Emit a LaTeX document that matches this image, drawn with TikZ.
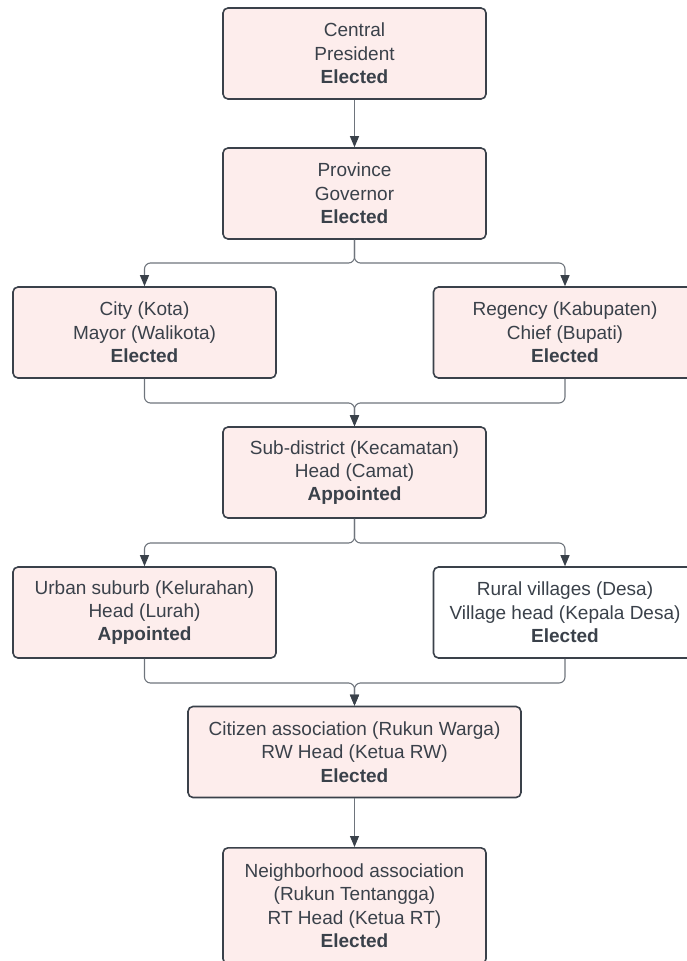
\documentclass[tikz,border=0pt]{standalone}
\usepackage{fontspec}
\setmainfont{Liberation Sans}
\usetikzlibrary{arrows.meta,positioning}
\definecolor{boxpink}{RGB}{253,237,236}
\definecolor{boxline}{RGB}{58,65,74}
\definecolor{linegray}{RGB}{110,116,124}
\tikzset{
  unit/.style={draw=boxline, line width=1.6pt, fill=boxpink, rounded corners=5pt,
    minimum width=263pt, minimum height=91pt, align=center, text=boxline,
    font=\fontsize{19}{23.3}\selectfont},
  link/.style={draw=linegray, line width=1.1pt, rounded corners=6pt,
    -{Triangle[length=11pt,width=9pt,color=boxline]}},
}
\begin{document}
\begin{tikzpicture}[x=1pt, y=-1pt]
  \useasboundingbox (0,0) rectangle (687,961);
  \clip (0,0) rectangle (687,961);
  \node[unit] (cent) at (354.5,53.5) {Central\\President\\\textbf{Elected}};
  \node[unit] (prov) at (354.5,193.5) {Province\\Governor\\\textbf{Elected}};
  \node[unit] (city) at (144.5,332.5) {City (Kota)\\Mayor (Walikota)\\\textbf{Elected}};
  \node[unit] (reg) at (565,332.5) {Regency (Kabupaten)\\Chief (Bupati)\\\textbf{Elected}};
  \node[unit] (sub) at (354.5,472.5) {Sub-district (Kecamatan)\\Head (Camat)\\\textbf{Appointed}};
  \node[unit] (urban) at (144.5,612.5) {Urban suburb (Kelurahan)\\Head (Lurah)\\\textbf{Appointed}};
  \node[unit, fill=white] (rural) at (565,612.5) {Rural villages (Desa)\\Village head (Kepala Desa)\\\textbf{Elected}};
  \node[unit, minimum width=333pt] (rw) at (354.5,752) {Citizen association (Rukun Warga)\\RW Head (Ketua RW)\\\textbf{Elected}};
  \node[unit, minimum height=116pt, anchor=north] (rt) at (354.5,847) {Neighborhood association\\(Rukun Tentangga)\\RT Head (Ketua RT)\\\textbf{Elected}};
  % split and join points
  \coordinate (split1) at (354.5,263);
  \coordinate (join1) at (354.5,403);
  \coordinate (split2) at (354.5,543);
  \coordinate (join2) at (354.5,683);
  \draw[link] (cent) -- (prov);
  \draw[link] (prov.south) -- (split1) -| (city.north);
  \draw[link] (prov.south) -- (split1) -| (reg.north);
  \draw[link] (city.south) |- (join1) -- (sub.north);
  \draw[link] (reg.south) |- (join1) -- (sub.north);
  \draw[link] (sub.south) -- (split2) -| (urban.north);
  \draw[link] (sub.south) -- (split2) -| (rural.north);
  \draw[link] (urban.south) |- (join2) -- (rw.north);
  \draw[link] (rural.south) |- (join2) -- (rw.north);
  \draw[link] (rw) -- (rt);
\end{tikzpicture}
\end{document}
